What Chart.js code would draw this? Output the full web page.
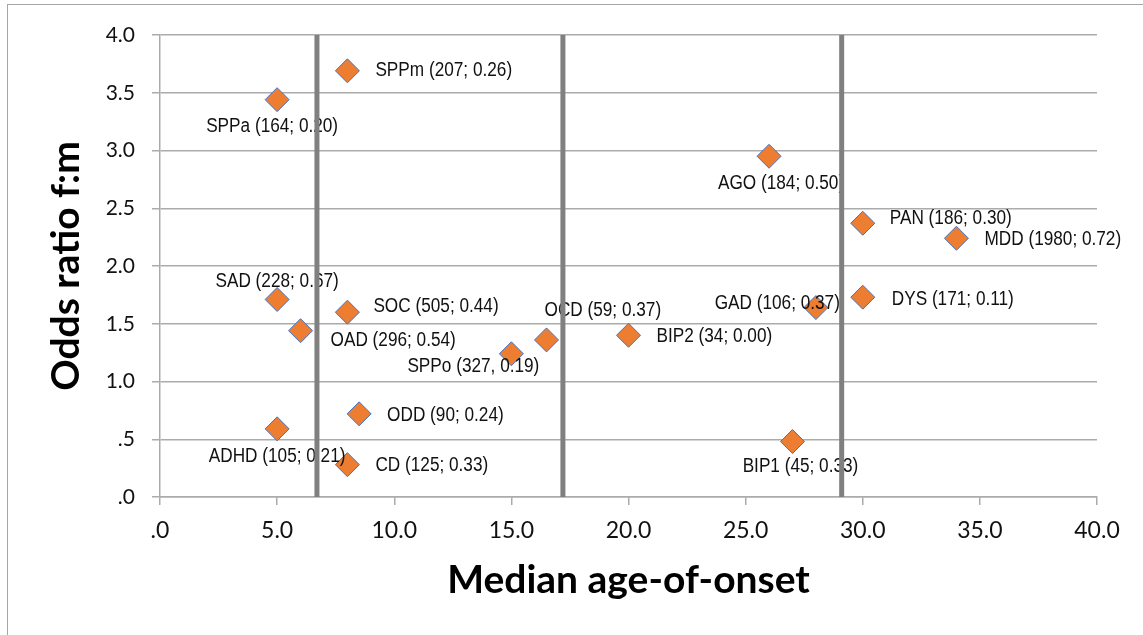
<!DOCTYPE html>
<html>
<head>
<meta charset="utf-8">
<script src="https://cdn.jsdelivr.net/npm/chart.js@4/dist/chart.umd.min.js"></script>
<style>
  body { margin: 0; background: #fff; }
  #wrap { position: relative; width: 1143px; height: 635px; overflow: hidden; }
  #frame { position: absolute; left: 7px; top: 4px; width: 2000px; height: 2000px;
           border-left: 1.5px solid #a6a6a6; border-top: 1.5px solid #a6a6a6; }
  #myChart { position: absolute; left: 0; top: 0; }
</style>
</head>
<body>
<div id="wrap">
  <div id="frame"></div>
  <canvas id="myChart" width="1143" height="635"></canvas>
</div>
<script>
// disorders, median age of onset, odds ratio f:m
const disorders = ['SPPm', 'SPPa', 'SAD', 'SOC', 'OAD', 'SPPo', 'ODD', 'ADHD', 'CD',
                   'OCD', 'BIP2', 'AGO', 'PAN', 'MDD', 'GAD', 'DYS', 'BIP1'];
const pointLabels = ['SPPm (207; 0.26)', 'SPPa (164; 0.20)', 'SAD (228; 0.67)', 'SOC (505; 0.44)',
                     'OAD (296; 0.54)', 'SPPo (327, 0.19)', 'ODD (90; 0.24)', 'ADHD (105; 0.21)',
                     'CD (125; 0.33)', 'OCD (59; 0.37)', 'BIP2 (34; 0.00)', 'AGO (184; 0.50)',
                     'PAN (186; 0.30)', 'MDD (1980; 0.72)', 'GAD (106; 0.37)', 'DYS (171; 0.11)',
                     'BIP1 (45; 0.33)'];
const medianAge = [8, 5, 5, 8, 6, 15, 8.5, 5, 8, 16.5, 20, 26, 30, 34, 28, 30, 27];
const oddsRatio = [3.69, 3.44, 1.71, 1.60, 1.44, 1.24, 0.72, 0.59, 0.28,
                   1.36, 1.40, 2.95, 2.37, 2.24, 1.64, 1.73, 0.48];
// age cut-offs drawn as thick vertical lines
const cutoffs = [6.7, 17.2, 29.1];

const xTickLabels = ['.0', '5.0', '10.0', '15.0', '20.0', '25.0', '30.0', '35.0', '40.0'];
const yTickLabels = ['.0', '.5', '1.0', '1.5', '2.0', '2.5', '3.0', '3.5', '4.0'];

// label placement next to each marker: [dx, dy, align]
const labelPlace = [
  [28, 0, 'left'], [-5, 27, 'center'], [0, -18, 'center'], [26, -6, 'left'],
  [30, 10, 'left'], [-38, 13, 'center'], [28, 2, 'left'], [0, 28, 'center'],
  [28, 1, 'left'], [-2, -29, 'left'], [28, 1, 'left'], [12, 27, 'center'],
  [27, -5, 'left'], [28, 1, 'left'], [24, -4, 'right'], [29, 2, 'left'],
  [8, 25, 'center']
];

const points = medianAge.map((a, i) => ({x: a, y: oddsRatio[i]}));

const lineSets = cutoffs.map(c => ({
  type: 'scatter',
  data: [{x: c, y: 0}, {x: c, y: 4}],
  showLine: true,
  borderColor: '#808080',
  borderWidth: 5,
  pointRadius: 0,
  order: 1
}));

const pointLabelPlugin = {
  id: 'pointLabels',
  afterDatasetDraw(chart, args) {
    if (args.index !== 0) return;
    const ctx = chart.ctx;
    const sx = 0.86;
    ctx.save();
    ctx.font = '20px "Liberation Sans", Arial, sans-serif';
    ctx.fillStyle = '#111';
    ctx.textBaseline = 'middle';
    args.meta.data.forEach((pt, i) => {
      const p = labelPlace[i];
      const txt = pointLabels[i];
      const w = ctx.measureText(txt).width * sx;
      let x = pt.x + p[0];
      if (p[2] === 'center') x -= w / 2;
      if (p[2] === 'right') x -= w;
      ctx.save();
      ctx.translate(x, pt.y + p[1]);
      ctx.scale(sx, 1);
      ctx.textAlign = 'left';
      ctx.fillText(txt, 0, 0);
      ctx.restore();
    });
    ctx.restore();
  }
};

const gridColor = '#ababab';

const config = {
  type: 'scatter',
  data: {
    datasets: [{
      label: 'disorders',
      data: points,
      pointStyle: 'rectRot',
      pointRadius: 12,
      pointHoverRadius: 12,
      backgroundColor: '#ED7D31',
      borderColor: '#4472C4',
      borderWidth: 1,
      order: 2
    }].concat(lineSets)
  },
  options: {
    responsive: false,
    animation: false,
    events: [],
    layout: { padding: { top: 35, right: 46, bottom: 0, left: 0 } },
    plugins: {
      legend: { display: false },
      tooltip: { enabled: false }
    },
    scales: {
      x: {
        type: 'linear',
        min: 0,
        max: 40,
        ticks: {
          stepSize: 5,
          padding: 12,
          color: '#111',
          font: { family: 'Lato', size: 23 },
          callback: (v, i) => xTickLabels[i]
        },
        grid: { drawOnChartArea: false, drawTicks: true, tickLength: 8, color: gridColor, lineWidth: 1.5 },
        border: { display: true, color: gridColor, width: 1.5 },
        title: {
          display: true,
          text: 'Median age-of-onset',
          color: '#000',
          font: { family: 'Lato', size: 39, weight: 'bold' },
          padding: { top: 0, bottom: 31 }
        },
        afterFit: s => { s.height = 138; }
      },
      y: {
        type: 'linear',
        min: 0,
        max: 4,
        ticks: {
          stepSize: 0.5,
          padding: 17,
          color: '#111',
          font: { family: 'Lato', size: 21 },
          callback: (v, i) => yTickLabels[i]
        },
        grid: { drawOnChartArea: true, drawTicks: true, tickLength: 8, color: gridColor, lineWidth: 1.5 },
        border: { display: true, color: gridColor, width: 1.5 },
        title: {
          display: true,
          text: 'Odds ratio f:m',
          color: '#000',
          font: { family: 'Lato', size: 39, weight: 'bold' },
          padding: { top: 43, bottom: 0 }
        },
        afterFit: s => { s.width = 160; }
      }
    }
  },
  plugins: [pointLabelPlugin]
};

myChart = new Chart(document.getElementById('myChart'), config);
</script>
</body>
</html>
